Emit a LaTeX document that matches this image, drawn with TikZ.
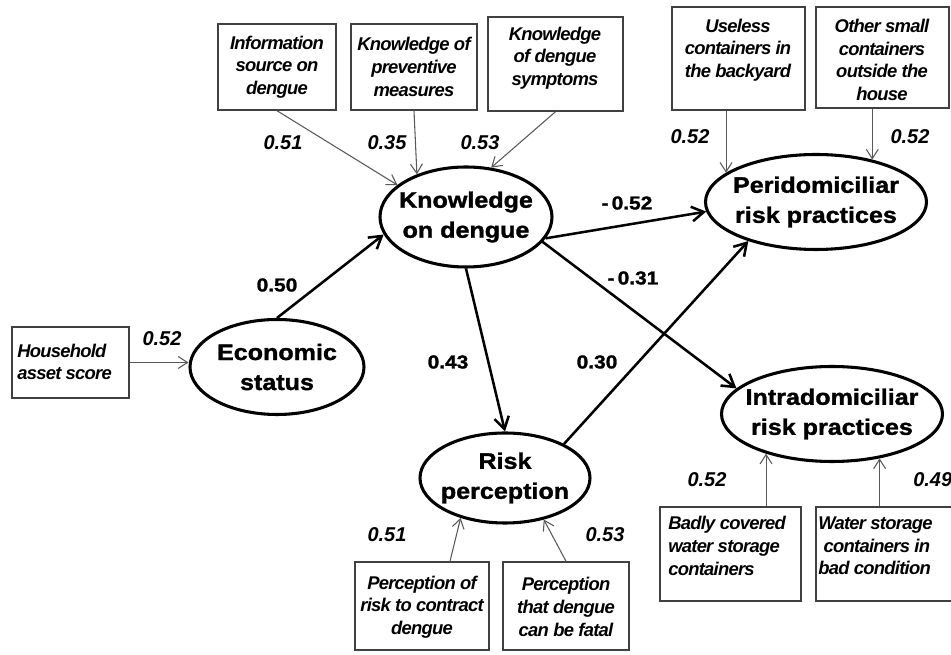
\documentclass[tikz,border=0pt]{standalone}
\usepackage{fontspec}
\setmainfont{Liberation Sans}
\newfontfamily\ellfont{Liberation Sans}[FakeStretch=1.12, FakeBold=1.5]
\newfontfamily\boxfont{Liberation Sans}[LetterSpace=-4]
\tikzset{
  ell/.style={draw, ellipse, line width=2.3pt, inner sep=0pt},
  elltext/.style={font=\ellfont\bfseries\fontsize{16.8}{22.5}\selectfont, align=center, inner sep=0pt},
  obox/.style={draw=black!75, line width=1.1pt, rectangle, inner sep=0pt},
  obtext/.style={font=\boxfont\bfseries\itshape\fontsize{13.8}{17}\selectfont, align=center, inner sep=0pt},
  thinarr/.style={draw=black!65, line width=0.8pt, -{Straight Barb[length=7pt,width=9pt]}},
  boldarr/.style={line width=1.9pt, -{Straight Barb[length=9pt,width=11pt]}},
  coef/.style={font=\ellfont\bfseries\fontsize{14}{16}\selectfont, inner sep=0pt},
  loadb/.style={font=\bfseries\itshape\fontsize{15}{17}\selectfont, inner sep=0pt}
}
\usetikzlibrary{arrows.meta,shapes.geometric}
\begin{document}
\begin{tikzpicture}[x=0.75pt,y=-0.75pt]
\useasboundingbox (0,0) rectangle (951,655);
% ellipses
\node[ell, minimum width=129pt, minimum height=75pt] (K) at (466,217) {};
\node[elltext] (Kt) at (K) {Knowledge\\on dengue};
\node[ell, minimum width=130.5pt, minimum height=71.25pt] (E) at (277,367) {};
\node[elltext] (Et) at (E) {Economic\\status};
\node[ell, minimum width=165.75pt, minimum height=71.25pt] (P) at (816,202) {};
\node[elltext] (Pt) at (P) {Peridomiciliar\\risk practices};
\node[ell, minimum width=165.75pt, minimum height=71.25pt] (I) at (832,414) {};
\node[elltext] (It) at (I) {Intradomiciliar\\risk practices};
\node[ell, minimum width=127.5pt, minimum height=67.5pt] (R) at (505,478) {};
\node[elltext] (Rt) at (R) {Risk\\perception};
% boxes
\node[obox, minimum width=88.5pt, minimum height=64.5pt] (b1) at (277,67) {};
\node[obtext] (b1t) at (277,67) {Information\\source on\\dengue};
\node[obox, minimum width=94.5pt, minimum height=64.5pt] (b2) at (414,67) {};
\node[obtext] (b2t) at (414,67) {Knowledge of\\preventive\\measures};
\node[obox, minimum width=101.25pt, minimum height=70.5pt] (b3) at (555.5,64) {};
\node[obtext] (b3t) at (555,58) {Knowledge\\of dengue\\symptoms};
\node[obox, minimum width=99.75pt, minimum height=77.25pt] (b4) at (738.5,58.5) {};
\node[obtext] (b4t) at (738,50) {Useless\\containers in\\the backyard};
\node[obox, minimum width=99.75pt, minimum height=75.75pt] (b5) at (882.5,57.5) {};
\node[obtext] (b5t) at (882,60) {Other small\\containers\\outside the\\house};
\node[obox, minimum width=87.75pt, minimum height=53.25pt] (H) at (70.5,362.5) {};
\node[obtext, align=left, anchor=west] (Ht) at (17,362) {Household\\asset score};
\node[obox, minimum width=100.5pt, minimum height=66pt] (B1) at (422,606) {};
\node[obtext] (B1t) at (422,607) {Perception of\\risk to contract\\dengue};
\node[obox, minimum width=94.5pt, minimum height=66pt] (B2) at (566,606) {};
\node[obtext] (B2t) at (566,607) {Perception\\that dengue\\can be fatal};
\node[obox, minimum width=105.75pt, minimum height=70.5pt] (B3) at (730.5,554) {};
\node[obtext, align=left, anchor=west] (B3t) at (668,546) {Badly covered\\water storage\\containers};
\node[obox, minimum width=108pt, minimum height=70.5pt] (B4) at (888,554) {};
\node[obtext, align=left, anchor=west] (B4t) at (818,546) {Water storage\\\hspace*{4pt}containers in\\bad condition};
% thin arrows
\draw[thinarr] (b1.south) -- (K.155);
\draw[thinarr] (b2.south) -- (K.139);
\draw[thinarr] (b3.south) -- (K.63);
\draw[thinarr] (b4.south -| P.162) -- (P.162);
\draw[thinarr] (b5.south -| P.37) -- (P.37);
\draw[thinarr] (H.east) -- (H.east -| E.west);
\draw[thinarr] ([xshift=21pt]B1.north) -- (R.222);
\draw[thinarr] (B2.north) -- (R.-47);
\draw[thinarr] (B3.north -| I.211) -- (I.211);
\draw[thinarr] (B4.north -| I.-43) -- (I.-43);
% bold arrows
\draw[boldarr] (E.north) -- (K.192);
\draw[boldarr] (K.south) -- (R.north);
\draw[boldarr] (K.-15) -- (P.185);
\draw[boldarr] (K.-18) -- (I.165);
\draw[boldarr] (R.30) -- (P.210);
% coefficients
\node[loadb] (l1) at (283,143) {0.51};
\node[loadb] (l2) at (387,143) {0.35};
\node[loadb] (l3) at (480,143) {0.53};
\node[loadb] (l4) at (690,137) {0.52};
\node[loadb] (l5) at (910,137) {0.52};
\node[loadb] (l6) at (162,339) {0.52};
\node[loadb] (l7) at (387,535) {0.51};
\node[loadb] (l8) at (605,535) {0.53};
\node[loadb] (l9) at (707,480) {0.52};
\node[loadb, anchor=west] (l10) at (913,480) {0.49};
\node[coef] (c1) at (277,285) {0.50};
\node[coef] (c2) at (448,362) {0.43};
\node[coef] (c3) at (627,203) {-\,0.52};
\node[coef] (c4) at (633,278) {-\,0.31};
\node[coef] (c5) at (597,362) {0.30};
\end{tikzpicture}
\end{document}
